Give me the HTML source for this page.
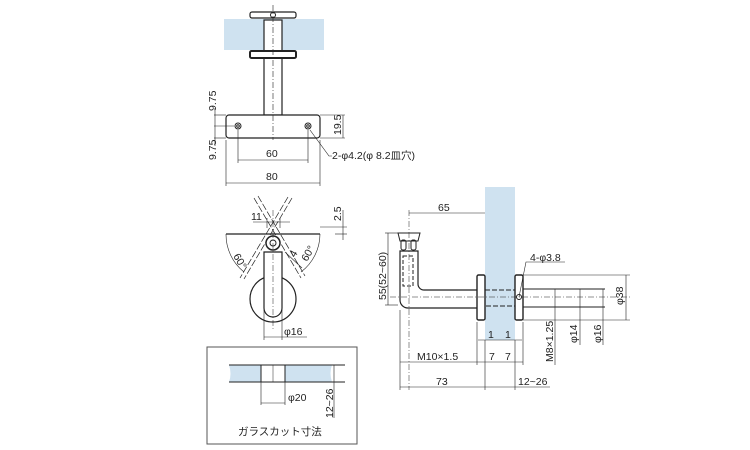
<!DOCTYPE html>
<html><head><meta charset="utf-8"><style>
html,body{margin:0;padding:0;background:#fff;}
svg{display:block;}
text{font-family:"Liberation Sans","Noto Sans CJK JP",sans-serif;font-size:10.5px;fill:#222;}
</style></head><body>
<svg width="750" height="450" viewBox="0 0 750 450" xmlns="http://www.w3.org/2000/svg">
<g stroke="#222" fill="none" stroke-width="1">
<!-- TOP VIEW -->
<rect x="224" y="19" width="100" height="31" fill="#cfe2f0" stroke="none"/>
<rect x="250" y="12" width="46" height="6" rx="2" fill="#fff" stroke-width="1.2"/>
<circle cx="273" cy="15" r="2.5"/>
<rect x="264" y="20" width="18" height="95" fill="#fff" stroke-width="1.2"/>
<rect x="250" y="51" width="46" height="7" rx="1.5" fill="#fff" stroke-width="2"/>
<rect x="226" y="115" width="94" height="23" rx="3" fill="#fff" stroke-width="1.2"/>
<line x1="273" y1="5" x2="273" y2="140" stroke-dasharray="6,2,1,2" stroke-width="0.6"/>
<circle cx="238" cy="126" r="3"/><circle cx="238" cy="126" r="1.3"/>
<circle cx="308" cy="126" r="3"/><circle cx="308" cy="126" r="1.3"/>
<line x1="226" y1="115" x2="214" y2="115" stroke-width="0.6"/>
<line x1="226" y1="138" x2="214" y2="138" stroke-width="0.6"/>
<line x1="234" y1="126" x2="214" y2="126" stroke-width="0.6"/>
<line x1="215" y1="108" x2="215" y2="146" stroke-width="0.6"/>
<line x1="320" y1="115" x2="345" y2="115" stroke-width="0.6"/>
<line x1="320" y1="138" x2="345" y2="138" stroke-width="0.6"/>
<line x1="343" y1="115" x2="343" y2="138" stroke-width="0.6"/>
<line x1="238" y1="130" x2="238" y2="163" stroke-width="0.6"/>
<line x1="308" y1="130" x2="308" y2="163" stroke-width="0.6"/>
<line x1="238" y1="160" x2="308" y2="160" stroke-width="0.6"/>
<line x1="226" y1="140" x2="226" y2="186" stroke-width="0.6"/>
<line x1="320" y1="140" x2="320" y2="186" stroke-width="0.6"/>
<line x1="226" y1="183" x2="320" y2="183" stroke-width="0.6"/>
<polyline points="310,130 329,156 332,156" stroke-width="0.6"/>

<!-- SIDE VIEW -->
<line x1="226" y1="234" x2="320" y2="234" stroke-width="1.2"/>
<path d="M226,234 A48,48 0 0 0 244,272" stroke-width="0.6"/>
<path d="M320,234 A48,48 0 0 1 301,272" stroke-width="0.6"/>
<g stroke-dasharray="7,2" stroke-width="0.7">
<line x1="254" y1="198" x2="301" y2="278"/><line x1="258" y1="196" x2="305" y2="276"/>
<line x1="288" y1="197" x2="240" y2="278"/><line x1="292" y1="198" x2="244" y2="279"/>
</g>
<circle cx="273" cy="299" r="23" fill="#fff" stroke-width="1.2"/>
<path d="M264,252 L264,308 A9,9 0 0 0 282,308 L282,252 Z" fill="#fff" stroke-width="1.2"/>
<circle cx="273" cy="243" r="7" fill="#fff" stroke-width="1.5"/>
<circle cx="273" cy="243" r="3"/>
<line x1="273" y1="210" x2="273" y2="330" stroke-dasharray="6,2,1,2" stroke-width="0.5"/>
<line x1="267" y1="218" x2="267" y2="228" stroke-width="0.6"/><line x1="280" y1="218" x2="280" y2="228" stroke-width="0.6"/>
<line x1="253" y1="222" x2="290" y2="222" stroke-width="0.6"/>
<line x1="320" y1="227" x2="347" y2="227" stroke-width="0.6"/>
<line x1="335" y1="234" x2="347" y2="234" stroke-width="0.6"/>
<line x1="343" y1="210" x2="343" y2="240" stroke-width="0.6"/>
<line x1="264" y1="310" x2="264" y2="340" stroke-width="0.6"/>
<line x1="282" y1="310" x2="282" y2="340" stroke-width="0.6"/>
<line x1="264" y1="337" x2="307" y2="337" stroke-width="0.6"/>
<line x1="285" y1="252" x2="302" y2="268" stroke-width="0.6"/>

<!-- RIGHT VIEW -->
<rect x="485" y="187" width="30" height="153" fill="#cfe2f0" stroke="none"/>
<path d="M398,233 h22 l-2,8 h-18 z" fill="#fff"/>
<rect x="401" y="240" width="5" height="10" rx="2"/><rect x="411" y="240" width="5" height="10" rx="2"/>
<path d="M400,251 h18 v33 a6,6 0 0 0 6,6 h54 v18 h-70 a8,8 0 0 1 -8,-8 z" fill="#fff" stroke-width="1.2"/>
<rect x="403" y="256" width="10" height="30" stroke-dasharray="4,2"/>
<rect x="477" y="275" width="8" height="45" rx="1.5" fill="#fff" stroke-width="1.4"/>
<rect x="515" y="275" width="8" height="45" rx="1.5" fill="#fff" stroke-width="1.4"/>
<rect x="485" y="290" width="30" height="16" stroke-dasharray="5,2"/>
<circle cx="519" cy="297" r="2.5"/>
<line x1="523" y1="289" x2="605" y2="289"/><line x1="523" y1="307" x2="605" y2="307"/>
<line x1="523" y1="275" x2="630" y2="275" stroke-width="0.6"/><line x1="523" y1="320" x2="630" y2="320" stroke-width="0.6"/>
<line x1="390" y1="297" x2="630" y2="297" stroke-dasharray="6,2,1,2" stroke-width="0.5"/>
<line x1="409" y1="210" x2="409" y2="390" stroke-dasharray="6,2,1,2" stroke-width="0.5"/>
<line x1="626" y1="275" x2="626" y2="320" stroke-width="0.6"/>
<line x1="603" y1="289" x2="603" y2="345" stroke-width="0.6"/>
<line x1="580" y1="289" x2="580" y2="345" stroke-width="0.6"/>
<line x1="555" y1="289" x2="555" y2="365" stroke-width="0.6"/>
<line x1="409" y1="213" x2="485" y2="213" stroke-width="0.6"/>
<line x1="385" y1="233" x2="398" y2="233" stroke-width="0.6"/>
<line x1="385" y1="305" x2="398" y2="305" stroke-width="0.6"/>
<line x1="388" y1="233" x2="388" y2="305" stroke-width="0.6"/>
<polyline points="519,297 526,262 565,262" stroke-width="0.6"/>
<line x1="477" y1="322" x2="477" y2="365" stroke-width="0.6"/>
<line x1="485" y1="340" x2="485" y2="390" stroke-width="0.6"/>
<line x1="515" y1="340" x2="515" y2="390" stroke-width="0.6"/>
<line x1="523" y1="322" x2="523" y2="365" stroke-width="0.6"/>
<line x1="400" y1="310" x2="400" y2="390" stroke-width="0.6"/>
<line x1="478" y1="340" x2="522" y2="340" stroke-width="0.6"/>
<line x1="400" y1="362" x2="523" y2="362" stroke-width="0.6"/>
<line x1="400" y1="387" x2="550" y2="387" stroke-width="0.6"/>

<!-- GLASS CUT BOX -->
<rect x="207" y="347" width="150" height="97" stroke-width="1" stroke="#555"/>
<path d="M229,365 h103 q-3,8 0,17 h-103 q3,-8 0,-17z" fill="#cfe2f0" stroke="none"/>
<line x1="229" y1="365" x2="345" y2="365"/><line x1="229" y1="382" x2="345" y2="382"/>
<rect x="261" y="365" width="24" height="17" fill="#fff"/>
<line x1="273" y1="365" x2="273" y2="382" stroke-width="0.5"/>
<line x1="261" y1="382" x2="261" y2="405" stroke-width="0.6"/>
<line x1="285" y1="382" x2="285" y2="405" stroke-width="0.6"/>
<line x1="261" y1="403" x2="285" y2="403" stroke-width="0.6"/>
<line x1="334" y1="365" x2="334" y2="418" stroke-width="0.6"/>
</g>
<g>
<text x="216" y="111" transform="rotate(-90 216 111)" >9.75</text>
<text x="216" y="160" transform="rotate(-90 216 160)" >9.75</text>
<text x="341" y="135" transform="rotate(-90 341 135)">19.5</text>
<text x="266" y="157">60</text>
<text x="266" y="180">80</text>
<text x="332" y="159">2-φ4.2(φ 8.2皿穴)</text>
<text x="251" y="220">11</text>
<text x="341" y="221" transform="rotate(-90 341 221)">2.5</text>
<text x="233" y="256" transform="rotate(60 233 256)">60°</text>
<text x="307" y="262" transform="rotate(-60 307 262)">60°</text>
<text x="295" y="258" transform="rotate(-60 295 258)">4</text>
<text x="284" y="335">φ16</text>
<text x="438" y="211">65</text>
<text x="386" y="300" transform="rotate(-90 386 300)">55(52~60)</text>
<text x="530" y="261">4-φ3.8</text>
<text x="623" y="305" transform="rotate(-90 623 305)">φ38</text>
<text x="601" y="343" transform="rotate(-90 601 343)">φ16</text>
<text x="577" y="343" transform="rotate(-90 577 343)">φ14</text>
<text x="553" y="362" transform="rotate(-90 553 362)">M8×1.25</text>
<text x="488" y="338">1</text><text x="505" y="338">1</text>
<text x="417" y="360">M10×1.5</text>
<text x="489" y="360">7</text><text x="505" y="360">7</text>
<text x="436" y="385">73</text>
<text x="518" y="385">12~26</text>
<text x="288" y="401">φ20</text>
<text x="333" y="418" transform="rotate(-90 333 418)">12~26</text>
<text x="238" y="435">ガラスカット寸法</text>
</g>
</svg>
</body></html>
